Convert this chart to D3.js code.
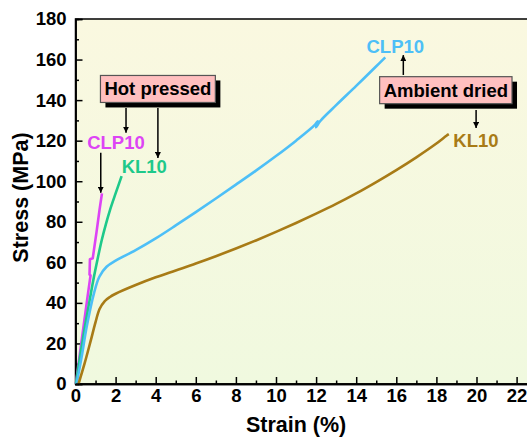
<!DOCTYPE html>
<html>
<head>
<meta charset="utf-8">
<script src="https://cdn.jsdelivr.net/npm/d3@7"></script>
<style>
  body { margin: 0; background: #fff; }
  svg { display: block; }
  text { font-family: Arial, "Liberation Sans", sans-serif; font-weight: bold; }
</style>
</head>
<body>
<div id="chart"></div>
<script>
const width = 527;
const height = 439;

// strain (%) / stress (MPa)
const clpHotX = [0.02, 0.30, 0.60, 0.75, 0.70, 0.72, 0.86, 1.05, 1.20, 1.32];
const clpHotY = [0, 21, 43, 53.5, 54, 61.5, 62, 75, 86, 94];

const klHotX = [0.02, 0.25, 0.47, 0.70, 0.89, 1.10, 1.31, 1.52, 1.72, 2.00, 2.30];
const klHotY = [0, 15, 28.3, 41, 51.3, 61.5, 71, 79, 85.8, 94, 102.5];

const clpAmbX = [0.05, 0.30, 0.56, 0.92, 1.19, 1.55, 2.0, 3.0, 4.0, 5.0, 6.0, 7.0, 8.0, 9.0, 10.0, 11.0, 11.95, 12.08, 12.0, 12.2, 13.0, 14.0, 15.0, 15.45];
const clpAmbY = [0, 13, 28.3, 44.7, 52.9, 57.8, 60.8, 66, 71.8, 78.2, 84.8, 91.5, 98.3, 105.2, 112.4, 120, 127.9, 129.6, 126.6, 129.6, 137.5, 147, 156.7, 161.1];

const klAmbX = [0.15, 0.45, 0.75, 1.0, 1.2, 1.45, 1.7, 2.0, 3.0, 4.0, 5.0, 6.0, 7.0, 8.0, 9.0, 10.0, 11.0, 12.0, 13.0, 14.0, 15.0, 16.0, 17.0, 18.0, 18.5, 18.62];
const klAmbY = [0, 10, 21, 30.5, 37, 40.8, 42.8, 44.5, 48.8, 52.6, 56, 59.4, 63, 66.8, 70.8, 75, 79.4, 84, 88.8, 94, 99.6, 105.5, 111.8, 118.6, 122.4, 123.2];

const seriesColors = ["#dd44f5", "#1ec98a", "#4dbff7", "#a87b16"];

const xTicks = d3.range(0, 23, 2);
const xMinor = d3.range(1, 23, 2);
const yTicks = d3.range(0, 181, 20);
const yMinor = d3.range(10, 180, 20);

// annotations in data units
const labelText = ["CLP10", "KL10", "CLP10", "KL10"];
const labelX = [2.02, 3.43, 15.95, 19.97];
const labelY = [119.3, 107.2, 166.3, 120.3];

const boxText = ["Hot pressed", "Ambient dried"];
const boxX = [4.11, 18.47];
const boxY = [145.5, 144.9];

const arrowX = [2.52, 4.11, 1.26, 16.35, 19.98];
const arrowFrom = [136.1, 136.1, 114.1, 152.4, 135.1];
const arrowTo = [123.9, 111.4, 94.3, 162.2, 126.2];

const margin = {left: 75.5, top: 19, bottom: 55};

const x = d3.scaleLinear().domain([0, 23]).range([margin.left, margin.left + 23 * 20.05]);
const y = d3.scaleLinear().domain([0, 180]).range([height - margin.bottom, margin.top]);

const svg = d3.select("#chart").append("svg")
  .attr("width", width)
  .attr("height", height);

const defs = svg.append("defs");
const grad = defs.append("linearGradient")
  .attr("id", "bg")
  .attr("x1", 0).attr("y1", 0).attr("x2", 0).attr("y2", 1);
grad.append("stop").attr("offset", "0%").attr("stop-color", "#faf8e0");
grad.append("stop").attr("offset", "100%").attr("stop-color", "#f0f9df");

defs.append("marker")
  .attr("id", "head")
  .attr("viewBox", "0 0 10 10")
  .attr("refX", 10).attr("refY", 5)
  .attr("markerWidth", 6).attr("markerHeight", 6)
  .attr("markerUnits", "userSpaceOnUse")
  .attr("orient", "auto")
  .append("path")
  .attr("d", "M0,0 L10,5 L0,10 z")
  .attr("fill", "#000");

svg.append("rect")
  .attr("x", x(0))
  .attr("y", y(180))
  .attr("width", x(23) - x(0))
  .attr("height", y(0) - y(180))
  .attr("fill", "url(#bg)")
  .attr("stroke", "#000")
  .attr("stroke-width", 1.5);

// axes, ticks point inward
svg.append("g")
  .attr("transform", `translate(0,${y(0)})`)
  .call(d3.axisBottom(x).tickValues(xTicks).tickSize(-7).tickPadding(5).tickFormat(d3.format("d")));
svg.append("g")
  .attr("transform", `translate(0,${y(0)})`)
  .call(d3.axisBottom(x).tickValues(xMinor).tickSize(-3.5).tickFormat(""));

svg.append("g")
  .attr("transform", `translate(${x(0)},0)`)
  .call(d3.axisLeft(y).tickValues(yTicks).tickSize(-7).tickPadding(9));
svg.append("g")
  .attr("transform", `translate(${x(0)},0)`)
  .call(d3.axisLeft(y).tickValues(yMinor).tickSize(-3.5).tickFormat(""));

svg.selectAll(".domain").attr("stroke", "#000").attr("stroke-width", 1.5);
svg.selectAll(".tick line").attr("stroke", "#000").attr("stroke-width", 1.5);
svg.selectAll(".tick text")
  .attr("font-size", 18.5)
  .attr("font-family", "Arial, 'Liberation Sans', sans-serif")
  .attr("font-weight", "bold")
  .attr("fill", "#000");

svg.append("text")
  .attr("x", (x(0) + x(22)) / 2)
  .attr("y", 432)
  .attr("text-anchor", "middle")
  .attr("font-size", 21.5)
  .text("Strain (%)");

svg.append("text")
  .attr("transform", `translate(28,${(y(0) + y(180)) / 2 - 4}) rotate(-90)`)
  .attr("text-anchor", "middle")
  .attr("font-size", 21.5)
  .text("Stress (MPa)");

// curves
const curveTypes = [d3.curveLinear, d3.curveCatmullRom.alpha(0.5), d3.curveCatmullRom.alpha(0.5), d3.curveCatmullRom.alpha(0.5)];

const curves = [
  d3.zip(clpHotX, clpHotY),
  d3.zip(klHotX, klHotY),
  d3.zip(clpAmbX, clpAmbY),
  d3.zip(klAmbX, klAmbY)
];

const plot = svg.append("g");
plot.selectAll("path")
  .data(curves)
  .join("path")
  .attr("d", (d, i) => d3.line()
    .x(p => x(p[0]))
    .y(p => y(p[1]))
    .curve(curveTypes[i])(d))
  .attr("fill", "none")
  .attr("stroke", (d, i) => seriesColors[i])
  .attr("stroke-width", 2.6)
  .attr("stroke-linejoin", "round");

// redraw x axis line over the curve starts
svg.append("line")
  .attr("x1", x(0)).attr("x2", x(23))
  .attr("y1", y(0)).attr("y2", y(0))
  .attr("stroke", "#000").attr("stroke-width", 1.5);

// series labels
svg.selectAll(".series-label")
  .data(labelText)
  .join("text")
  .attr("class", "series-label")
  .attr("x", (d, i) => x(labelX[i]))
  .attr("y", (d, i) => y(labelY[i]))
  .attr("dominant-baseline", "central")
  .attr("text-anchor", "middle")
  .attr("font-size", 18.5)
  .attr("fill", (d, i) => seriesColors[i])
  .text(d => d);

// arrows
svg.selectAll(".arrow")
  .data(arrowX)
  .join("line")
  .attr("class", "arrow")
  .attr("x1", d => x(d)).attr("x2", d => x(d))
  .attr("y1", (d, i) => y(arrowFrom[i]))
  .attr("y2", (d, i) => y(arrowTo[i]))
  .attr("stroke", "#000")
  .attr("stroke-width", 1.5)
  .attr("marker-end", "url(#head)");

// boxed captions with drop shadow
boxText.forEach((t, i) => {
  const g = svg.append("g");
  const txt = g.append("text")
    .attr("x", x(boxX[i]))
    .attr("y", y(boxY[i]))
    .attr("dominant-baseline", "central")
    .attr("text-anchor", "middle")
    .attr("font-size", 18.5)
    .attr("fill", "#000")
    .text(t);
  const bb = txt.node().getBBox();
  const w = bb.width + 8;
  const h = 27;
  const bx = x(boxX[i]) - w / 2;
  const by = y(boxY[i]) - h / 2;
  g.insert("rect", "text")
    .attr("x", bx + 5).attr("y", by + 5)
    .attr("width", w).attr("height", h)
    .attr("fill", "#000");
  g.insert("rect", "text")
    .attr("x", bx).attr("y", by)
    .attr("width", w).attr("height", h)
    .attr("fill", "#ffbfbf")
    .attr("stroke", "#555")
    .attr("stroke-width", 1.2);
});
</script>
</body>
</html>
